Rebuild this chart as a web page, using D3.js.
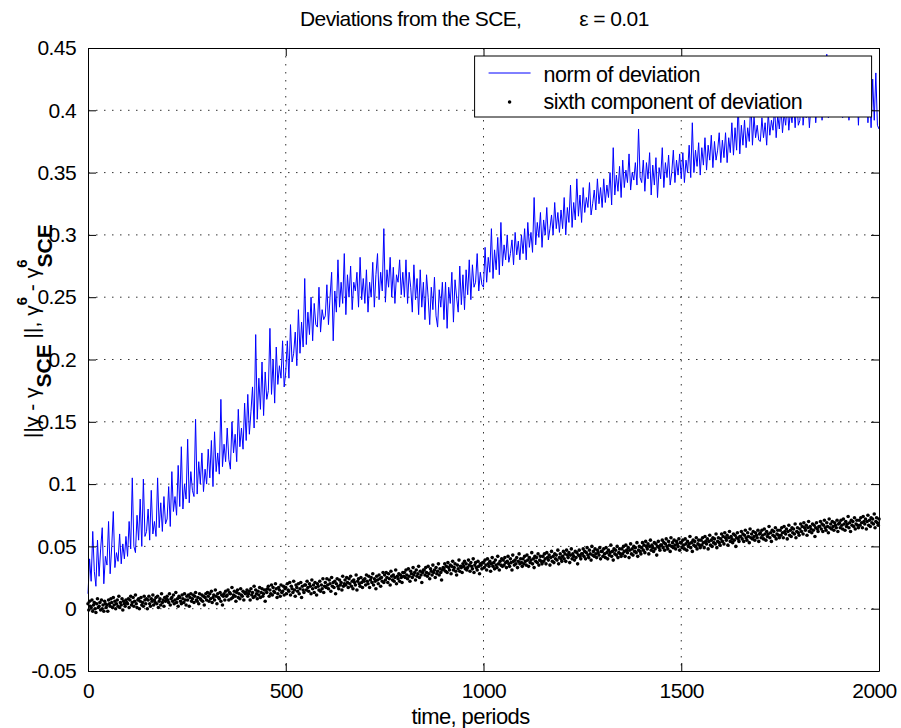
<!DOCTYPE html>
<html>
<head>
<meta charset="utf-8">
<script src="https://cdn.jsdelivr.net/npm/d3@7"></script>
<style>
  body { margin: 0; background: #fff; }
  text { font-family: Arial, "Liberation Sans", sans-serif; }
</style>
</head>
<body>
<script>
// norm of deviation, one value every 4 periods
var normStep = 4;
var normDev = [
  0.012, 0.04, 0.022, 0.062, 0.03, 0.018, 0.055, 0.026, 0.048, 0.065, 0.02, 0.042, 0.035, 0.07, 0.028, 0.05, 0.078, 0.033, 0.045, 0.038, 0.06, 0.036, 0.052, 0.04, 0.058,
  0.042, 0.07, 0.048, 0.105, 0.05, 0.045, 0.075, 0.055, 0.088, 0.05, 0.104, 0.058, 0.062, 0.08, 0.055, 0.095, 0.06, 0.07, 0.058, 0.105, 0.065, 0.085, 0.062, 0.09, 0.068,
  0.072, 0.098, 0.066, 0.11, 0.078, 0.09, 0.075, 0.115, 0.082, 0.13, 0.08, 0.1, 0.088, 0.136, 0.085, 0.11, 0.095, 0.09, 0.152, 0.092, 0.118, 0.1, 0.125, 0.094, 0.112,
  0.1, 0.128, 0.105, 0.135, 0.098, 0.142, 0.11, 0.125, 0.108, 0.168, 0.114, 0.132, 0.118, 0.145, 0.12, 0.112, 0.15, 0.125, 0.14, 0.118, 0.16, 0.13, 0.145, 0.128, 0.165,
  0.135, 0.172, 0.14, 0.158, 0.178, 0.145, 0.22, 0.152, 0.185, 0.16, 0.198, 0.155, 0.19, 0.168, 0.175, 0.225, 0.172, 0.2, 0.165, 0.21, 0.18, 0.195, 0.185, 0.215, 0.178,
  0.19, 0.215, 0.185, 0.228, 0.198, 0.205, 0.222, 0.195, 0.24, 0.205, 0.23, 0.21, 0.265, 0.212, 0.238, 0.22, 0.25, 0.215, 0.245, 0.228, 0.226, 0.258, 0.222, 0.24, 0.232,
  0.235, 0.26, 0.228, 0.25, 0.27, 0.215, 0.255, 0.238, 0.28, 0.242, 0.262, 0.245, 0.285, 0.236, 0.268, 0.25, 0.275, 0.24, 0.262, 0.255, 0.27, 0.242, 0.282, 0.248, 0.265,
  0.245, 0.272, 0.238, 0.262, 0.25, 0.278, 0.242, 0.268, 0.285, 0.248, 0.27, 0.255, 0.305, 0.246, 0.272, 0.258, 0.282, 0.25, 0.274, 0.245, 0.268, 0.262, 0.28, 0.252, 0.27,
  0.25, 0.28, 0.245, 0.27, 0.258, 0.238, 0.276, 0.248, 0.265, 0.236, 0.272, 0.242, 0.262, 0.232, 0.268, 0.25, 0.228, 0.258, 0.24, 0.266, 0.235, 0.226, 0.256, 0.242, 0.262,
  0.232, 0.262, 0.225, 0.258, 0.245, 0.27, 0.23, 0.264, 0.25, 0.238, 0.275, 0.244, 0.268, 0.24, 0.272, 0.252, 0.28, 0.248, 0.276, 0.258, 0.262, 0.285, 0.255, 0.27, 0.26,
  0.258, 0.29, 0.262, 0.282, 0.27, 0.305, 0.265, 0.288, 0.272, 0.298, 0.268, 0.31, 0.275, 0.292, 0.28, 0.3, 0.278, 0.285, 0.296, 0.276, 0.302, 0.284, 0.295, 0.28, 0.3,
  0.285, 0.305, 0.28, 0.31, 0.29, 0.302, 0.286, 0.33, 0.292, 0.31, 0.298, 0.318, 0.29, 0.312, 0.3, 0.322, 0.296, 0.305, 0.316, 0.3, 0.326, 0.305, 0.318, 0.302, 0.32,
  0.305, 0.33, 0.3, 0.322, 0.31, 0.34, 0.306, 0.326, 0.312, 0.345, 0.315, 0.332, 0.31, 0.338, 0.318, 0.33, 0.322, 0.342, 0.316, 0.325, 0.336, 0.32, 0.345, 0.325, 0.338,
  0.322, 0.345, 0.326, 0.34, 0.33, 0.35, 0.324, 0.37, 0.332, 0.348, 0.335, 0.355, 0.33, 0.36, 0.338, 0.352, 0.342, 0.365, 0.336, 0.35, 0.344, 0.358, 0.34, 0.385, 0.346,
  0.342, 0.36, 0.335, 0.358, 0.345, 0.366, 0.332, 0.356, 0.34, 0.362, 0.33, 0.354, 0.345, 0.37, 0.338, 0.358, 0.346, 0.364, 0.34, 0.35, 0.368, 0.342, 0.36, 0.348, 0.365,
  0.345, 0.366, 0.342, 0.36, 0.35, 0.372, 0.346, 0.39, 0.35, 0.368, 0.355, 0.374, 0.348, 0.37, 0.356, 0.378, 0.352, 0.372, 0.36, 0.38, 0.354, 0.375, 0.36, 0.368, 0.382,
  0.358, 0.376, 0.362, 0.382, 0.358, 0.378, 0.366, 0.39, 0.364, 0.386, 0.368, 0.405, 0.365, 0.388, 0.372, 0.392, 0.37, 0.386, 0.375, 0.41, 0.372, 0.395, 0.378, 0.388, 0.376,
  0.375, 0.394, 0.378, 0.39, 0.372, 0.398, 0.38, 0.392, 0.384, 0.402, 0.378, 0.396, 0.385, 0.404, 0.382, 0.398, 0.388, 0.406, 0.384, 0.4, 0.39, 0.408, 0.386, 0.41, 0.388,
  0.392, 0.425, 0.388, 0.402, 0.394, 0.41, 0.386, 0.404, 0.396, 0.412, 0.39, 0.406, 0.398, 0.418, 0.392, 0.41, 0.4, 0.445, 0.394, 0.414, 0.402, 0.42, 0.396, 0.412, 0.404,
  0.398, 0.418, 0.394, 0.412, 0.402, 0.422, 0.392, 0.416, 0.4, 0.426, 0.396, 0.42, 0.388, 0.418, 0.404, 0.43, 0.395, 0.435, 0.39, 0.42, 0.386, 0.425, 0.392, 0.43, 0.388,
  0.385
];

// sixth component of deviation, in thousandths, one value every 2 periods
var sixthStep = 2;
var sixthDevMilli = [
  4,-1,6,2,1,7,-2,3,5,0,-3,4,8,1,2,5,-1,7,0,3,-2,6,4,1,3, -2,7,4,2,8,5,1,9,3,6,0,4,7,2,10,1,5,3,8,-1,6,4,2,7,5,
  4,8,1,7,10,3,5,9,2,6,11,4,1,7,8,0,6,9,3,5,2,10,7,4,8, 0,7,10,4,2,8,6,11,3,7,5,9,4,10,1,6,8,3,12,5,7,2,9,6,8,
  10,7,5,12,3,8,9,6,11,4,7,13,5,8,2,10,9,6,4,11,8,5,12,7,3, 10,7,11,2,9,12,6,8,11,5,10,13,7,6,9,4,12,8,7,11,6,10,3,9,12,
  7,13,10,6,12,8,14,5,9,11,7,15,10,4,12,9,8,13,6,11,3,10,12,7,14, 10,11,15,7,13,12,8,17,9,11,14,10,6,13,15,9,12,8,16,11,10,14,7,13,12,
  13,15,10,12,14,7,16,11,13,9,18,10,15,12,8,14,11,17,9,13,16,10,12,15,6, 15,13,16,18,10,15,12,19,11,17,14,13,20,16,9,12,17,15,10,19,13,14,18,11,16,
  17,12,20,15,14,21,11,18,16,13,22,15,10,19,17,14,20,12,16,21,9,18,15,13,19, 19,15,22,17,14,20,18,12,23,16,19,13,21,17,11,20,18,15,22,14,19,16,24,13,18,
  21,17,24,19,16,23,20,14,25,18,21,17,22,12,20,24,18,16,23,19,21,15,26,18,20, 23,19,25,21,17,24,20,26,18,22,16,23,21,19,27,15,22,24,20,18,25,21,17,23,22,
  24,19,27,22,20,26,17,23,25,21,28,19,24,22,16,26,23,20,27,24,18,25,22,29,21, 27,23,29,25,21,28,24,19,30,26,23,27,22,25,31,20,26,24,28,22,27,25,21,29,26,
  29,25,31,27,24,32,26,22,30,28,25,33,27,29,23,31,26,28,34,25,30,27,21,29,31, 31,27,33,29,26,34,28,24,32,30,27,35,29,31,25,33,28,30,36,27,32,29,23,31,33,
  32,36,30,34,29,37,33,31,35,28,34,38,31,33,36,30,27,35,32,39,30,34,33,29,36, 34,38,32,36,31,33,39,35,30,37,34,32,40,29,35,37,33,31,38,34,28,36,35,32,37,
  37,33,39,35,31,40,36,34,38,30,36,41,34,37,32,39,35,33,42,36,31,38,35,40,34, 39,35,41,37,33,38,42,36,34,40,37,31,43,38,35,39,36,41,33,38,44,36,40,37,34,
  40,36,42,38,35,43,39,34,41,37,39,45,36,40,33,42,38,41,37,44,35,39,42,38,36, 42,38,44,40,36,45,41,39,43,35,41,46,38,42,37,44,40,43,39,47,36,41,44,40,38,
  42,46,40,44,38,47,43,41,45,37,43,48,40,44,42,39,46,41,45,36,43,47,42,40,44, 44,48,42,46,40,45,49,43,41,47,44,39,50,43,46,42,48,44,41,47,45,43,49,40,46,
  46,42,48,44,41,49,45,40,47,43,45,51,42,46,39,48,44,47,43,50,41,45,48,44,42, 48,44,50,46,42,51,47,45,49,41,47,52,44,48,43,50,46,49,45,53,42,47,50,46,44,
  49,53,47,51,45,54,50,48,52,44,50,55,47,51,49,46,53,48,52,43,50,54,49,47,51, 51,55,49,53,47,52,56,50,48,54,51,46,57,50,53,49,55,51,48,54,52,50,56,47,53,
  53,49,55,51,48,56,52,47,54,50,52,58,49,53,46,55,51,54,50,57,48,52,55,51,49, 55,51,57,53,49,58,54,52,56,48,54,59,51,55,50,57,53,56,52,60,49,54,57,53,51,
  56,60,54,58,52,61,57,55,59,51,57,62,54,58,56,53,60,55,59,50,57,61,56,54,58, 58,62,56,60,54,59,63,57,55,61,58,53,64,57,60,56,62,58,55,61,59,57,63,54,60,
  61,57,63,59,56,64,60,55,62,58,60,66,57,61,54,63,59,62,58,65,56,60,63,59,57, 63,59,65,61,57,66,62,60,64,56,62,67,59,63,58,65,61,64,60,68,57,62,65,61,59,
  64,68,62,66,60,69,65,63,67,59,65,70,62,66,64,61,68,63,67,58,65,69,64,62,66, 66,70,64,68,62,67,71,65,63,69,66,61,72,65,68,64,70,66,63,69,67,65,71,62,68,
  69,65,71,67,64,72,68,63,70,66,68,74,65,69,62,71,67,70,66,73,64,68,71,67,65, 71,67,73,69,65,74,70,68,72,64,70,75,67,71,66,73,69,72,68,76,65,70,73,69,67,
  72
];

var xTicks = [0, 500, 1000, 1500, 2000];
var yTicks = [-0.05, 0, 0.05, 0.1, 0.15, 0.2, 0.25, 0.3, 0.35, 0.4, 0.45];
var legendLabels = ["norm of deviation", "sixth component of deviation"];

var margin = {top: 48, right: 22, bottom: 57, left: 88},
    width = 901 - margin.left - margin.right,
    height = 728 - margin.top - margin.bottom;

var svgRoot = d3.select("body").append("svg")
  .attr("width", 901)
  .attr("height", 728);

var svg = svgRoot.append("g")
  .attr("transform", "translate(" + margin.left + "," + margin.top + ")");

var x = d3.scaleLinear().domain([0, 2000]).range([0, width]);
var y = d3.scaleLinear().domain([-0.05, 0.45]).range([height, 0]);

// dotted grid
svg.append("g").selectAll("line")
  .data(xTicks.slice(1, -1))
  .enter().append("line")
  .attr("x1", function(d) { return x(d); })
  .attr("x2", function(d) { return x(d); })
  .attr("y1", 0).attr("y2", height)
  .attr("stroke", "#333").attr("stroke-width", 1)
  .attr("stroke-dasharray", "1.5,6.5");
svg.append("g").selectAll("line")
  .data(yTicks.slice(1, -1))
  .enter().append("line")
  .attr("x1", 0).attr("x2", width)
  .attr("y1", function(d) { return y(d); })
  .attr("y2", function(d) { return y(d); })
  .attr("stroke", "#333").attr("stroke-width", 1)
  .attr("stroke-dasharray", "1.5,6.5");

// data
var normLine = d3.line()
  .x(function(d, i) { return x(i * normStep); })
  .y(function(d) { return y(d); });

svg.append("path")
  .datum(normDev)
  .attr("fill", "none")
  .attr("stroke", "#0000ff")
  .attr("stroke-width", 1)
  .attr("d", normLine);

svg.append("g").selectAll("circle")
  .data(sixthDevMilli)
  .enter().append("circle")
  .attr("cx", function(d, i) { return x(i * sixthStep); })
  .attr("cy", function(d) { return y(d / 1000); })
  .attr("r", 1.8)
  .attr("fill", "#000");

// axes, ticks pointing inward on all four sides
function styleAxis(g) {
  g.selectAll("text").attr("font-size", 21).attr("font-family", "Arial, 'Liberation Sans', sans-serif")
    .attr("fill", "#000").attr("letter-spacing", "-0.6");
  g.selectAll("line").attr("stroke", "#000");
  g.select(".domain").attr("stroke", "#000");
}

svg.append("g")
  .attr("transform", "translate(0," + height + ")")
  .call(d3.axisBottom(x).tickValues(xTicks).tickFormat(d3.format("d"))
    .tickSizeInner(-8).tickSizeOuter(0).tickPadding(12))
  .call(styleAxis)
  .selectAll(".tick text")
  .attr("dx", function(d) { return d === 2000 ? -5 : 0; });

svg.append("g")
  .call(d3.axisLeft(y).tickValues(yTicks).tickFormat(function(d) { return String(+d.toFixed(2)); })
    .tickSizeInner(-8).tickSizeOuter(0).tickPadding(12))
  .call(styleAxis);

svg.append("g")
  .call(d3.axisTop(x).tickValues(xTicks).tickFormat("")
    .tickSizeInner(-8).tickSizeOuter(0))
  .call(styleAxis);

svg.append("g")
  .attr("transform", "translate(" + width + ",0)")
  .call(d3.axisRight(y).tickValues(yTicks).tickFormat("")
    .tickSizeInner(-8).tickSizeOuter(0))
  .call(styleAxis);

// legend
var legend = svg.append("g").attr("transform", "translate(" + (x(980) - 1) + ",8)");
legend.append("rect")
  .attr("width", 397).attr("height", 61)
  .attr("fill", "#fff").attr("stroke", "#000").attr("stroke-width", 1);
legend.append("line")
  .attr("x1", 14).attr("x2", 56).attr("y1", 17).attr("y2", 17)
  .attr("stroke", "#0000ff").attr("stroke-width", 1);
legend.append("circle")
  .attr("cx", 35).attr("cy", 46).attr("r", 1.8).attr("fill", "#000");
legend.selectAll("text.lab")
  .data(legendLabels)
  .enter().append("text")
  .attr("class", "lab")
  .attr("x", 69)
  .attr("y", function(d, i) { return 26 + i * 27; })
  .attr("font-size", 21.5)
  .attr("letter-spacing", "-0.5")
  .text(function(d) { return d; });

// title
svgRoot.append("text")
  .attr("x", 300).attr("y", 26)
  .attr("font-size", 21)
  .attr("letter-spacing", "-0.6")
  .text("Deviations from the SCE,")
  .append("tspan")
  .attr("dx", 58)
  .text("\u03b5 = 0.01");

// x label
svgRoot.append("text")
  .attr("x", margin.left + width / 2 - 13).attr("y", 724)
  .attr("text-anchor", "middle")
  .attr("font-size", 22)
  .attr("letter-spacing", "-0.6")
  .text("time, periods");

// y label (rotated)
var yl = svgRoot.append("text")
  .attr("transform", "translate(39,438) rotate(-90)")
  .attr("font-size", 21);
yl.append("tspan").text("||\u03b3 - \u03b3");
yl.append("tspan").attr("dy", 12).attr("font-weight", "bold").text("SCE");
yl.append("tspan").attr("dy", -12).text(" ||, \u03b3");
yl.append("tspan").attr("dy", -12).attr("font-size", 15).attr("font-weight", "bold").text("6");
yl.append("tspan").attr("dy", 12).text(" - \u03b3");
yl.append("tspan").attr("dy", -12).attr("font-size", 15).attr("font-weight", "bold").text("6");
yl.append("tspan").attr("dx", -8).attr("dy", 25).attr("font-weight", "bold").text("SCE");
</script>
</body>
</html>
